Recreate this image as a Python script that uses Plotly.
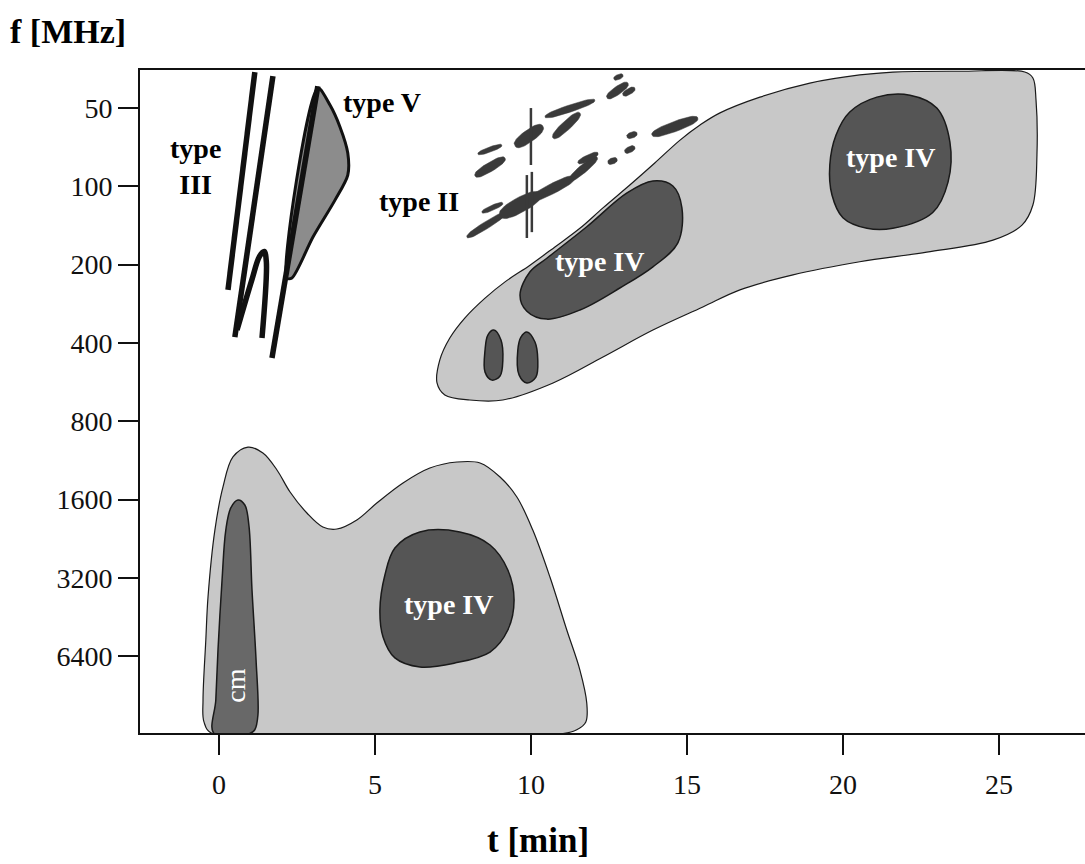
import numpy as np
import plotly.graph_objects as go

# ---------------- axes ----------------
t_ticks = [0, 5, 10, 15, 20, 25]
f_ticks = [50, 100, 200, 400, 800, 1600, 3200, 6400]
t_range = [-2.53, 27.76]
f_range = [12645, 35.7]          # high frequencies at the bottom

# ---------------- burst regions, outlines in (t [min], f [MHz]) ----------------
# microwave / decimetric continuum (lower light region)
cont_low_t = [-0.22, -0.48, -0.51, -0.42, -0.35, -0.13, 0.13, 0.45, 0.93, 1.41, 1.86, 2.28,
              2.82, 3.33, 3.78, 4.42, 5.06, 5.90, 6.76, 7.63, 8.37, 9.01, 9.55, 10.06,
              10.61, 11.15, 11.57, 11.79, 11.76, 11.47, 11.03]
cont_low_f = [12700, 11460, 9435, 5535, 3792, 2097, 1432, 1098, 1006, 1060, 1232, 1497,
              1803, 2041, 2078, 1918, 1651, 1382, 1211, 1148, 1158, 1311, 1565, 2097,
              3178, 5081, 7242, 9697, 11460, 12290, 12700]

# centimetric burst
cm_t = [-0.16, -0.10, -0.03, 0.10, 0.22, 0.38, 0.61, 0.83, 0.96, 1.06, 1.19, 1.25, 1.15, 0.99]
cm_f = [12700, 9435, 6055, 3263, 2097, 1724, 1607, 1680, 2006, 3566, 6627, 10780, 12290, 12700]

# microwave type IV
iv_low_t = [5.16, 5.32, 5.64, 6.44, 7.72, 8.69, 9.26, 9.46, 9.26, 8.69, 7.56, 6.44, 5.64, 5.26]
iv_low_f = [4255, 3121, 2458, 2133, 2133, 2393, 2985, 3896, 5081, 6174, 6804, 7048, 6506, 5404]

# metric continuum (upper light region)
cont_up_t = [6.99, 7.08, 7.40, 7.88, 8.53, 9.17, 9.97, 10.77, 11.57, 12.31, 13.17, 13.97,
             14.78, 15.42, 16.06, 17.34, 18.94, 20.54, 21.60, 23.75, 25.83, 26.09, 26.19,
             26.22, 26.09, 25.74, 24.81, 22.69, 20.54, 18.40, 16.70, 15.51, 13.91, 12.31,
             10.71, 9.10, 8.04, 7.24]
cont_up_f = [570, 465, 383, 321, 269, 233, 201, 171, 145, 121, 98.8, 81.3,
             66.4, 58.1, 52.2, 45.4, 40.1, 37.3, 36.35, 36.1, 36.35, 38.3, 46.6,
             75.8, 118, 141, 161, 179, 195, 219, 250, 291, 357, 453,
             570, 663, 663, 634]

# moving type IV
iv_mid_t = [9.65, 9.97, 10.51, 11.79, 13.08, 13.91, 14.55, 14.84, 14.71, 13.91, 12.85, 11.57, 10.51, 9.87]
iv_mid_f = [262, 213, 189, 143, 106, 95.4, 99.7, 121, 165, 204, 246, 299, 324, 302]

# stationary type IV
iv_late_t = [19.58, 19.78, 20.22, 21.09, 22.15, 23.01, 23.43, 23.37, 22.88, 21.60, 20.77, 20.0, 19.65]
iv_late_f = [82.8, 63.5, 51.8, 45.4, 44.6, 50, 67.6, 96.3, 126, 145, 145, 132, 108]

# decimetric spots
spot1_t = [8.81, 9.04, 9.10, 9.01, 8.75, 8.53, 8.53, 8.62]
spot1_f = [357, 390, 465, 536, 556, 518, 426, 373]
spot2_t = [9.87, 10.13, 10.22, 10.16, 9.87, 9.62, 9.58, 9.68]
spot2_f = [363, 397, 465, 541, 570, 531, 426, 380]

# type III bursts (fast drift lines)
iii_a_t = [1.15, 0.29]
iii_a_f = [36.35, 250]
iii_b_t = [1.73, 0.51]
iii_b_f = [37.7, 380]
iii_u_t = [0.58, 1.05, 1.30, 1.45, 1.52, 1.38]
iii_u_f = [357, 230, 186, 178, 195, 383]
iii_c_t = [3.17, 1.70]
iii_c_f = [41.2, 457]

# type V
v_t = [3.17, 3.56, 3.88, 4.13, 4.13, 3.72, 3.01, 2.34, 2.17]
v_f = [41.9, 48.7, 59.1, 74.5, 90.5, 113, 157, 225, 225]

# type II lanes: streak start / end
ii_t0 = [12.66, 12.44, 12.95, 10.45, 10.71, 9.49, 8.30, 8.21, 13.88, 13.08, 13.01, 12.47,
         7.95, 9.01, 9.97, 11.25, 11.51, 8.43]
ii_f0 = [38.7, 45.7, 44.6, 54.1, 65.2, 70.0, 75.1, 91.3, 63.5, 64.6, 73.8, 81.3,
         157, 130, 113, 94.6, 81.3, 126]
ii_t1 = [12.95, 13.11, 13.33, 12.05, 11.57, 10.38, 9.07, 9.17, 15.35, 13.40, 13.33, 12.76,
         9.17, 10.29, 11.41, 12.12, 12.15, 9.10]
ii_f1 = [37.3, 40.1, 41.9, 46.6, 52.2, 58.6, 69.4, 77.8, 54.6, 62.4, 70.6, 78.5,
         127, 107, 92.1, 77.2, 74.5, 116]
ii_width = [5, 8, 6, 7, 9, 12, 5, 9, 10, 6, 6, 6, 7, 15, 10, 8, 6, 5]   # stroke thickness, px

# fine vertical structures crossing the type II lanes
ii_v_t = [10.0, 9.87, 10.03]
ii_v_f0 = [50, 90.5, 88]
ii_v_f1 = [82.8, 158, 150]

# ---------------- styling ----------------
LIGHT = "#c8c8c8"
DARK = "#555555"
CM = "#686868"
VFILL = "#8c8c8c"
IIFILL = "#3a3a3a"
EDGE = "#1a1a1a"
SERIF = "Liberation Serif, Times New Roman, serif"

W, H = 1085, 864
ML, MR, MT, MB = 140, 0, 70, 131
PW, PH = W - ML - MR, H - MT - MB

fig = go.Figure()


def region(t, f, fill, lw=1.3, color=EDGE, smooth=1.0):
    fig.add_trace(go.Scatter(
        x=list(t) + [t[0]], y=list(f) + [f[0]], mode="lines", fill="toself",
        fillcolor=fill, line=dict(color=color, width=lw, shape="spline", smoothing=smooth),
        hoverinfo="skip", showlegend=False))


def stroke(t, f, lw=5, color="#111111", shape="linear"):
    fig.add_trace(go.Scatter(
        x=t, y=f, mode="lines", line=dict(color=color, width=lw, shape=shape),
        hoverinfo="skip", showlegend=False))


# pixel <-> data helpers for the stroke blobs of type II
ly0, ly1 = np.log10(f_range[1]), np.log10(f_range[0])


def to_px(t, f):
    return ((t - t_range[0]) / (t_range[1] - t_range[0]) * PW,
            (np.log10(f) - ly0) / (ly1 - ly0) * PH)


def from_px(px, py):
    return (t_range[0] + px / PW * (t_range[1] - t_range[0]),
            10 ** (ly0 + py / PH * (ly1 - ly0)))


region(cont_low_t, cont_low_f, LIGHT, lw=1.2)
region(cm_t, cm_f, CM, lw=1.5)
region(iv_low_t, iv_low_f, DARK, lw=1.5)
region(cont_up_t, cont_up_f, LIGHT, lw=1.2)
region(iv_mid_t, iv_mid_f, DARK, lw=1.5)
region(iv_late_t, iv_late_f, DARK, lw=1.5)
region(spot1_t, spot1_f, DARK, lw=1.5)
region(spot2_t, spot2_f, DARK, lw=1.5)

# type III drift lines
stroke(iii_a_t, iii_a_f, lw=5.5)
stroke(iii_b_t, iii_b_f, lw=5.5)
stroke(iii_u_t, iii_u_f, lw=5.5, shape="spline")

# type V with its leading type III edge
region(v_t, v_f, VFILL, lw=3, color="#111111", smooth=0.8)
stroke(iii_c_t, iii_c_f, lw=5.5)

# type II lanes as elongated blunt strokes
theta = np.linspace(0, 2 * np.pi, 48)
cu = np.sign(np.cos(theta)) * np.abs(np.cos(theta)) ** 0.8
su = np.sign(np.sin(theta)) * np.abs(np.sin(theta)) ** 0.8
for t0, f0, t1, f1, w in zip(ii_t0, ii_f0, ii_t1, ii_f1, ii_width):
    x0, y0 = to_px(t0, f0)
    x1, y1 = to_px(t1, f1)
    cx, cy = (x0 + x1) / 2, (y0 + y1) / 2
    L = np.hypot(x1 - x0, y1 - y0)
    dx, dy = (x1 - x0) / L, (y1 - y0) / L
    px = cx + dx * (L / 2) * cu - dy * (w / 2) * su
    py = cy + dy * (L / 2) * cu + dx * (w / 2) * su
    et, ef = from_px(px, py)
    fig.add_trace(go.Scatter(x=et, y=ef, mode="lines", fill="toself", fillcolor=IIFILL,
                             line=dict(width=0.5, color=IIFILL), hoverinfo="skip",
                             showlegend=False))
for tv, fa, fb in zip(ii_v_t, ii_v_f0, ii_v_f1):
    stroke([tv, tv], [fa, fb], lw=2.5, color=IIFILL)

# ---------------- labels ----------------
lab = dict(family=SERIF, size=28, color="black")
wlab = dict(family=SERIF, size=28, color="white")
annotations = [
    dict(x=-0.74, y=np.log10(83.6), text="<b>type<br>III</b>", font=lab),
    dict(x=5.22, y=np.log10(47.8), text="<b>type V</b>", font=lab),
    dict(x=6.41, y=np.log10(114), text="<b>type II</b>", font=lab),
    dict(x=7.37, y=np.log10(4036), text="<b>type IV</b>", font=wlab),
    dict(x=12.21, y=np.log10(195), text="<b>type IV</b>", font=wlab),
    dict(x=21.51, y=np.log10(77.8), text="<b>type IV</b>", font=wlab),
    dict(x=0.54, y=np.log10(8340), text="cm", textangle=-90,
         font=dict(family=SERIF, size=28, color="white")),
]
for a in annotations:
    a.update(xref="x", yref="y", showarrow=False)

annotations += [
    dict(x=8, y=32, xref="paper", yref="paper", text="<b>f [MHz]</b>", showarrow=False,
         xanchor="left", yanchor="middle", font=dict(family=SERIF, size=34, color="black")),
    dict(x=538, y=840, xref="paper", yref="paper", text="<b>t [min]</b>", showarrow=False,
         xanchor="center", yanchor="middle", font=dict(family=SERIF, size=35, color="black")),
]
# place the two axis titles by pixel position, expressed as paper fractions
for a in annotations[-2:]:
    a["x"] = (a["x"] - ML) / PW
    a["y"] = (H - MB - a["y"]) / PH

fig.update_layout(
    width=W, height=H,
    margin=dict(l=ML, r=MR, t=MT, b=MB, pad=0),
    paper_bgcolor="white", plot_bgcolor="white",
    showlegend=False,
    annotations=annotations,
    xaxis=dict(range=t_range, tickvals=t_ticks, ticktext=[str(v) for v in t_ticks],
               showgrid=False, zeroline=False, showline=True, linecolor="#111111",
               linewidth=2, mirror=True, ticks="outside", ticklen=20, tickwidth=2,
               tickcolor="#111111", ticklabelstandoff=5,
               tickfont=dict(family=SERIF, size=28, color="#111111")),
    yaxis=dict(type="log", range=[np.log10(f_range[0]), np.log10(f_range[1])],
               tickvals=f_ticks, ticktext=[str(v) for v in f_ticks],
               showgrid=False, zeroline=False, showline=True, linecolor="#111111",
               linewidth=2, ticks="outside", ticklen=20, tickwidth=2,
               tickcolor="#111111", tickfont=dict(family=SERIF, size=28, color="#111111")),
)

fig.write_html("out.html")
